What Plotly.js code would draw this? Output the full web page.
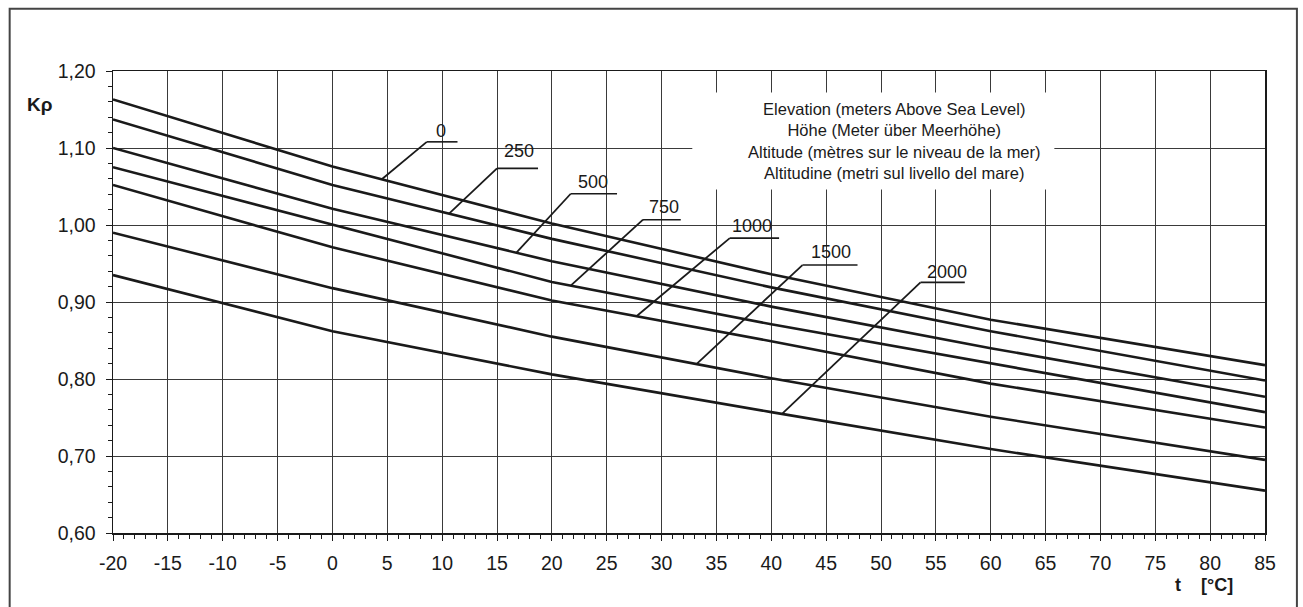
<!DOCTYPE html>
<html>
<head>
<meta charset="utf-8">
<script src="https://cdn.plot.ly/plotly-3.0.1.min.js"></script>
<style>html,body{margin:0;padding:0;background:#fff;}#chart{width:1303px;height:607px;}</style>
</head>
<body>
<div id="chart"></div>
<script>
// ---- data ----
const temps = [-20, 0, 20, 40, 60, 85];
const elevations = ['0', '250', '500', '750', '1000', '1500', '2000'];
const k_0    = [1.163, 1.076, 1.002, 0.936, 0.877, 0.818];
const k_250  = [1.137, 1.052, 0.982, 0.919, 0.862, 0.798];
const k_500  = [1.100, 1.021, 0.953, 0.894, 0.840, 0.777];
const k_750  = [1.075, 1.000, 0.926, 0.871, 0.820, 0.757];
const k_1000 = [1.052, 0.971, 0.902, 0.849, 0.794, 0.737];
const k_1500 = [0.990, 0.918, 0.855, 0.801, 0.751, 0.695];
const k_2000 = [0.935, 0.862, 0.806, 0.757, 0.709, 0.655];
const xTickVals = [-20,-15,-10,-5,0,5,10,15,20,25,30,35,40,45,50,55,60,65,70,75,80,85];
const xTickText = ['-20','-15','-10','-5','0','5','10','15','20','25','30','35','40','45','50','55','60','65','70','75','80','85'];
const yTickVals = [0.60,0.70,0.80,0.90,1.00,1.10,1.20];
const yTickText = ['0,60','0,70','0,80','0,90','1,00','1,10','1,20'];
const legendLines = ['Elevation (meters Above Sea Level)','Höhe (Meter über Meerhöhe)','Altitude (mètres sur le niveau de la mer)','Altitudine (metri sul livello del mare)'];

const series = [k_0, k_250, k_500, k_750, k_1000, k_1500, k_2000];

// ---- label placement (layout) ----
const labelPos = [
  {end: 4.5,   u0: 8.6,   u1: 11.4,  uy: 1.108,  tx: 9.9,   ty: 1.121},
  {end: 10.63, u0: 15.0,  u1: 18.74, uy: 1.0735, tx: 17.0,  ty: 1.095},
  {end: 16.77, u0: 21.72, u1: 25.94, uy: 1.0406, tx: 23.76, ty: 1.0545},
  {end: 21.72, u0: 28.31, u1: 31.75, uy: 1.0069, tx: 30.2,  ty: 1.022},
  {end: 27.71, u0: 36.22, u1: 40.71, uy: 0.983,  tx: 38.2,  ty: 0.997},
  {end: 33.18, u0: 42.84, u1: 47.86, uy: 0.948,  tx: 45.42, ty: 0.964},
  {end: 40.98, u0: 53.6,  u1: 57.64, uy: 0.9255, tx: 55.97, ty: 0.938}
];

function interp(xs, ys, x) {
  for (let i = 0; i < xs.length - 1; i++) {
    if (x >= xs[i] && x <= xs[i+1]) {
      const f = (x - xs[i]) / (xs[i+1] - xs[i]);
      return ys[i] + f * (ys[i+1] - ys[i]);
    }
  }
  return ys[ys.length - 1];
}

const FONT = 'Liberation Sans, Arial, Helvetica, sans-serif';
const INK = '#1a1a1a';

const traces = series.map((ys, i) => ({
  type: 'scatter', mode: 'lines', x: temps, y: ys, name: elevations[i],
  line: {color: INK, width: 2.6}, hoverinfo: 'skip', showlegend: false
}));

const shapes = [];
const annotations = [];

// white box behind the multilingual caption
shapes.push({type: 'rect', xref: 'x', yref: 'y', x0: 32.8, x1: 65.8, y0: 1.046, y1: 1.172,
  fillcolor: '#ffffff', line: {width: 0}, layer: 'between'});

labelPos.forEach((p, i) => {
  const ey = interp(temps, series[i], p.end);
  shapes.push({type: 'line', xref: 'x', yref: 'y', x0: p.end, y0: ey, x1: p.u0, y1: p.uy,
    line: {color: INK, width: 1.8}, layer: 'above'});
  shapes.push({type: 'line', xref: 'x', yref: 'y', x0: p.u0, y0: p.uy, x1: p.u1, y1: p.uy,
    line: {color: INK, width: 1.6}, layer: 'above'});
  annotations.push({xref: 'x', yref: 'y', x: p.tx, y: p.ty, text: elevations[i], showarrow: false,
    xanchor: 'center', yanchor: 'middle', yshift: 1, font: {family: FONT, size: 18, color: INK}});
});

annotations.push({xref: 'x', yref: 'y', x: 51.2, y: 1.1095, text: legendLines.join('<br>'),
  showarrow: false, xanchor: 'center', yanchor: 'middle', align: 'center',
  font: {family: FONT, size: 16.5, color: INK}});

annotations.push({xref: 'paper', yref: 'paper', x: -0.0636, y: 0.927, text: '<b>Kρ</b>',
  showarrow: false, xanchor: 'center', yanchor: 'middle', font: {family: FONT, size: 19, color: INK}});

annotations.push({xref: 'paper', yref: 'paper', x: 0.974, y: -0.112, text: '<b>t\u00a0\u00a0\u00a0\u00a0[°C]</b>',
  showarrow: false, xanchor: 'right', yanchor: 'middle', font: {family: FONT, size: 18, color: INK}});

// outer frame
shapes.push({type: 'rect', xref: 'paper', yref: 'paper', x0: -0.0897, x1: 1.0277, y0: -0.2, y1: 1.1348,
  fillcolor: 'rgba(0,0,0,0)', line: {color: '#444', width: 2}, layer: 'above'});

const layout = {
  width: 1303, height: 607,
  margin: {l: 113, r: 38, t: 71, b: 74, pad: 0},
  paper_bgcolor: '#fff', plot_bgcolor: '#fff',
  font: {family: FONT, color: INK},
  showlegend: false,
  xaxis: {
    range: [-20, 85], tickmode: 'array', tickvals: xTickVals, ticktext: xTickText,
    ticks: 'outside', ticklen: 6, tickwidth: 1, tickcolor: INK,
    showgrid: true, gridcolor: '#3a3a3a', gridwidth: 1, zeroline: false,
    showline: true, linecolor: INK, linewidth: 1.5, mirror: true,
    tickfont: {family: FONT, size: 19.5, color: INK}, ticklabelstandoff: 6,
    minor: {tickmode: 'linear', tick0: -20, dtick: 1, ticks: 'outside', ticklen: 4, tickcolor: INK, tickwidth: 1, showgrid: false}
  },
  yaxis: {
    range: [0.6, 1.2], tickmode: 'array', tickvals: yTickVals, ticktext: yTickText,
    ticks: 'outside', ticklen: 6, tickwidth: 1, tickcolor: INK,
    showgrid: true, gridcolor: '#3a3a3a', gridwidth: 1, zeroline: false,
    showline: true, linecolor: INK, linewidth: 1.5, mirror: true,
    tickfont: {family: FONT, size: 19.5, color: INK}, ticklabelstandoff: 6,
    minor: {tickmode: 'linear', tick0: 0.6, dtick: 0.02, ticks: 'outside', ticklen: 4, tickcolor: INK, tickwidth: 1, showgrid: false}
  },
  shapes: shapes,
  annotations: annotations
};

Plotly.newPlot('chart', traces, layout, {staticPlot: true, displayModeBar: false});
</script>
</body>
</html>
